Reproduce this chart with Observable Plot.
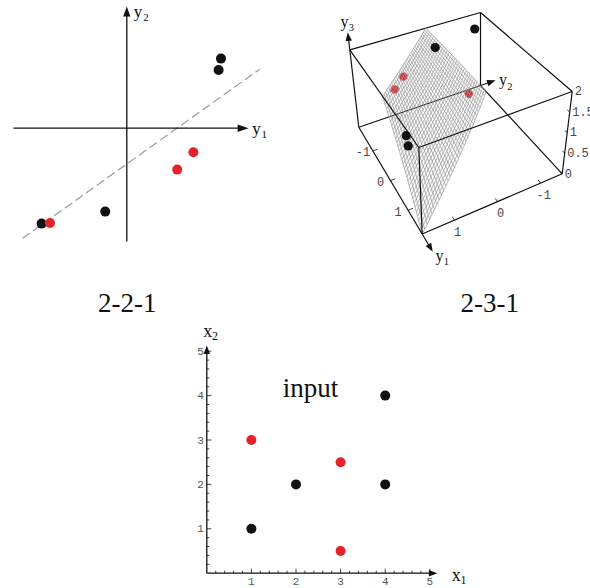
<!DOCTYPE html>
<html><head><meta charset="utf-8">
<script src="https://cdn.jsdelivr.net/npm/d3@7"></script>
<script src="https://cdn.jsdelivr.net/npm/@observablehq/plot@0.6"></script>
<style>
html,body{margin:0;padding:0;background:#fff;}
#wrap{position:relative;width:590px;height:588px;overflow:hidden;background:#fff;}
#wrap svg{position:absolute;max-width:none;background:transparent;}
#wrap g[aria-label^="x-axis"] text, #wrap g[aria-label^="y-axis"] text{fill:#555;}
</style></head><body><div id="wrap"></div>
<script>
// ---------------- data ----------------
// Panel "2-2-1": hidden-unit space (y1, y2)
const p221BlackY1 = [1.57, 1.53, -0.36, -1.42];
const p221BlackY2 = [1.16, 0.97, -1.39, -1.59];
const p221RedY1 = [-1.28, 0.84, 1.11];
const p221RedY2 = [-1.58, -0.69, -0.40];
const p221BoundaryY1 = [-1.73, 2.21];
const p221BoundaryY2 = [-1.83, 0.98];
const p221AxisExtent = [-1.89, 2.03];

// Panel "2-3-1": hidden-unit space (y1, y2, y3)
const p231BlackY1 = [-1.08, -1.30, 1.13, 1.21];
const p231BlackY2 = [0.03, -1.05, 1.75, 1.75];
const p231BlackY3 = [2.0, 2.0, 1.85, 1.66];
const p231RedY1 = [-0.73, -0.55, -1.44];
const p231RedY2 = [0.98, 1.28, -0.98];
const p231RedY3 = [1.8, 1.7, 0.2];
const boxY1 = [-1.8, 1.8];
const boxY2 = [-1.5, 1.75];
const boxY3 = [0, 2];
const axisTip231 = {y1: 2.4, y2: -1.9, y3: 2.45};
const y1Ticks = [-1, 0, 1];
const y2Ticks = [1, 0, -1];
const y3Ticks = [0, 0.5, 1, 1.5, 2];
// separating surface, corner points (y1, y2, y3)
const surfY1 = [-1.8, -0.09, 1.8, -1.55];
const surfY2 = [-0.14, 1.75, 1.75, -1.5];
const surfY3 = [2, 2, 0, 0];

// Panel "input": (x1, x2)
const inBlackX1 = [1, 2, 4, 4];
const inBlackX2 = [1, 2, 2, 4];
const inRedX1 = [1, 3, 3];
const inRedX2 = [3, 2.5, 0.5];
const inTicks = [1, 2, 3, 4, 5];
const inAxisExtent = [5.17, 5.13];

// ---------------- styles ----------------
const INK = "#111";
const RED = "#e5222b";
const SERIF = "'Liberation Serif','Times New Roman',serif";
const MONO = "'Liberation Mono','Courier New',monospace";
const wrap = document.getElementById("wrap");
function place(svg, left, top) { svg.style.left = left + "px"; svg.style.top = top + "px"; wrap.appendChild(svg); }
function headPoly(id, tip, from, len, half) {
  const dx = tip[0] - from[0], dy = tip[1] - from[1], n = Math.hypot(dx, dy);
  const ux = dx / n, uy = dy / n, bx = tip[0] - ux * len, by = tip[1] - uy * len;
  return [[tip[0], tip[1]], [bx - uy * half, by + ux * half], [bx + uy * half, by - ux * half], [tip[0], tip[1]]]
    .map(([px, py]) => ({id, px, py}));
}
function subLabel(x, y, main, sub, o) {
  return [
    Plot.text([main], {x: () => x, y: () => y, text: d => d, dx: o.dx, dy: o.dy, textAnchor: "start", lineAnchor: "bottom", fontSize: o.size, fontFamily: SERIF, fill: INK}),
    Plot.text([sub], {x: () => x, y: () => y, text: d => d, dx: o.sdx, dy: o.sdy, textAnchor: "start", lineAnchor: "bottom", fontSize: o.subSize, fontFamily: SERIF, fill: INK})
  ];
}

// ---------------- panel 1: 2-2-1 ----------------
{
  const X = {domain: [-1.9, 2.1], range: [12.3, 252.3]};
  const Y = {domain: [-1.9, 2.1], range: [241.7, 1.7]};
  const sx = d3.scaleLinear(X.domain, X.range), sy = d3.scaleLinear(Y.domain, Y.range);
  const [lo, hi] = p221AxisExtent;
  const heads = [
    ...headPoly("x", [sx(hi), sy(0)], [sx(lo), sy(0)], 11, 3.8),
    ...headPoly("y", [sx(0), sy(hi)], [sx(0), sy(lo)], 10, 3.6)
  ].map(d => ({id: d.id, x: sx.invert(d.px), y: sy.invert(d.py)}));
  const shafts = [
    {x1: lo, y1: 0, x2: sx.invert(sx(hi) - 6), y2: 0},
    {x1: 0, y1: lo, x2: 0, y2: sy.invert(sy(hi) + 6)}
  ];
  const boundary = p221BoundaryY1.map((v, i) => ({x: v, y: p221BoundaryY2[i]}));
  const black = p221BlackY1.map((v, i) => ({x: v, y: p221BlackY2[i]}));
  const red = p221RedY1.map((v, i) => ({x: v, y: p221RedY2[i]}));
  const svg = Plot.plot({
    width: 290, height: 320, marginLeft: 12.3, marginRight: 37.7, marginTop: 1.7, marginBottom: 78.3,
    x: {...X, axis: null}, y: {...Y, axis: null},
    style: {background: "transparent"},
    marks: [
      Plot.line(boundary, {x: "x", y: "y", stroke: "#9a9a9a", strokeWidth: 1.2, strokeDasharray: "8,5"}),
      Plot.link(shafts, {x1: "x1", y1: "y1", x2: "x2", y2: "y2", stroke: INK, strokeWidth: 1.3}),
      Plot.line(heads, {x: "x", y: "y", z: "id", fill: INK, stroke: "none"}),
      Plot.dot(black, {x: "x", y: "y", r: 5, fill: INK}),
      Plot.dot(red, {x: "x", y: "y", r: 5, fill: RED}),
      ...subLabel(0, hi, "y", "2", {dx: 7, dy: 10.4, sdx: 16.4, sdy: 14.4, size: 17, subSize: 11}),
      ...subLabel(hi, 0, "y", "1", {dx: 3.6, dy: 5.3, sdx: 12.9, sdy: 9.3, size: 17, subSize: 11}),
      Plot.text(["2-2-1"], {frameAnchor: "bottom", text: d => d, dx: -5.6, dy: 70, lineAnchor: "bottom", fontSize: 27, fontFamily: SERIF, fill: INK})
    ]
  });
  place(svg, 0, 0);
}

// ---------------- panel 2: 2-3-1 (3D) ----------------
{
  // camera: screen position of each box corner, key = (y1 high)(y2 low)(y3 high)
  const view = {
    "000": [58.3, 126.7], "010": [180, 85], "100": [121.7, 233.5], "110": [261.7, 173.3],
    "001": [49.3, 49.3], "011": [180, 12], "101": [118.3, 147], "111": [271.7, 91]
  };
  function proj(y1, y2, y3) {
    const a = (y1 - boxY1[0]) / (boxY1[1] - boxY1[0]);
    const b = (boxY2[1] - y2) / (boxY2[1] - boxY2[0]);
    const c = (y3 - boxY3[0]) / (boxY3[1] - boxY3[0]);
    let x = 0, y = 0;
    for (const i of [0, 1]) for (const j of [0, 1]) for (const k of [0, 1]) {
      const w = (i ? a : 1 - a) * (j ? b : 1 - b) * (k ? c : 1 - c);
      const p = view[`${i}${j}${k}`];
      x += w * p[0]; y += w * p[1];
    }
    return [x, y];
  }
  const [m1, M1] = boxY1, [m2, M2] = boxY2, [m3, M3] = boxY3;
  const E = [m1, M2, m3], F = [m1, m2, m3], H = [M1, M2, m3], G = [M1, m2, m3];
  const A = [m1, M2, M3], B = [m1, m2, M3], D = [M1, M2, M3], C = [M1, m2, M3];
  const seg = (p, q) => { const [a, b] = [proj(...p), proj(...q)]; return {x1: a[0], y1: a[1], x2: b[0], y2: b[1]}; };
  const backEdges = [[E, F], [B, F], [A, B], [A, E], [F, G], [B, C]].map(([p, q]) => seg(p, q));
  const frontEdges = [[E, H], [H, G], [D, H], [A, D], [D, C], [C, G]].map(([p, q]) => seg(p, q));
  // surface mesh (bilinear patch through the four corner points)
  const S = surfY1.map((v, i) => [v, surfY2[i], surfY3[i]]);
  const surf = (u, v) => {
    const w = [(1 - u) * (1 - v), u * (1 - v), u * v, (1 - u) * v];
    const p = [0, 1, 2].map(k => w[0] * S[0][k] + w[1] * S[1][k] + w[2] * S[2][k] + w[3] * S[3][k]);
    return proj(...p);
  };
  const N = 32, Mseg = 12, mesh = [];
  for (let i = 0; i <= N; i++) for (let j = 0; j <= Mseg; j++) {
    const a = i / N, b = j / Mseg;
    const p = surf(a, b), q = surf(b, a);
    mesh.push({id: "u" + i, x: p[0], y: p[1]});
    mesh.push({id: "v" + i, x: q[0], y: q[1]});
  }
  // axis arrows
  const tips = {
    y1: [H, [axisTip231.y1, M2, m3]],
    y2: [F, [m1, axisTip231.y2, m3]],
    y3: [A, [m1, M2, axisTip231.y3]]
  };
  const shafts = [], heads = [], tipPx = {};
  for (const [k, [from, to]] of Object.entries(tips)) {
    const a = proj(...from), b = proj(...to);
    tipPx[k] = b;
    const n = Math.hypot(b[0] - a[0], b[1] - a[1]);
    shafts.push({x1: a[0], y1: a[1], x2: b[0] - (b[0] - a[0]) / n * 5, y2: b[1] - (b[1] - a[1]) / n * 5});
    heads.push(...headPoly(k, b, a, 8.5, 3.2).map(d => ({id: d.id, x: d.px, y: d.py})));
  }
  // ticks
  const ticks = [
    ...y1Ticks.map(v => seg([v, M2, m3], [v, M2 - 0.12, m3])),
    ...y2Ticks.map(v => seg([M1, v, m3], [M1 - 0.12, v, m3])),
    ...y3Ticks.map(v => seg([M1, m2, v], [M1 - 0.1, m2, v]))
  ];
  const fmt = d => String(d);
  const lab1 = y1Ticks.map(v => { const p = proj(v, M2, m3); return {x: p[0], y: p[1], t: fmt(v)}; });
  const lab2 = y2Ticks.map(v => { const p = proj(M1, v, m3); return {x: p[0], y: p[1], t: fmt(v)}; });
  const lab3 = y3Ticks.map(v => { const p = proj(M1, m2, v); return {x: p[0], y: p[1], t: fmt(v)}; });
  const pts = (a, b, c) => a.map((v, i) => { const p = proj(v, b[i], c[i]); return {x: p[0], y: p[1]}; });
  const black = pts(p231BlackY1, p231BlackY2, p231BlackY3);
  const red = pts(p231RedY1, p231RedY2, p231RedY3);
  const tickText = (data, o) => Plot.text(data, {x: "x", y: "y", text: "t", fontFamily: MONO, fontSize: 12, fill: "#4a4a4a", lineAnchor: "middle", ...o});
  const svg = Plot.plot({
    width: 290, height: 320, marginLeft: 0, marginRight: 0, marginTop: 0, marginBottom: 0,
    x: {domain: [0, 290], range: [0, 290], axis: null},
    y: {domain: [0, 320], range: [0, 320], axis: null},
    style: {background: "transparent"},
    marks: [
      Plot.link(backEdges, {x1: "x1", y1: "y1", x2: "x2", y2: "y2", stroke: INK, strokeWidth: 1.2}),
      Plot.dot(red, {x: "x", y: "y", r: 4.2, fill: RED}),
      Plot.line(mesh, {x: "x", y: "y", z: "id", stroke: "#999", strokeWidth: 0.75, strokeLinecap: "butt"}),
      Plot.link(frontEdges, {x1: "x1", y1: "y1", x2: "x2", y2: "y2", stroke: INK, strokeWidth: 1.2}),
      Plot.link(ticks, {x1: "x1", y1: "y1", x2: "x2", y2: "y2", stroke: INK, strokeWidth: 0.8}),
      Plot.link(shafts, {x1: "x1", y1: "y1", x2: "x2", y2: "y2", stroke: INK, strokeWidth: 1.2}),
      Plot.line(heads, {x: "x", y: "y", z: "id", fill: INK, stroke: "none"}),
      Plot.dot(black, {x: "x", y: "y", r: 4.6, fill: INK}),
      tickText(lab1, {dx: -10, dy: 1.5, textAnchor: "middle"}),
      tickText(lab2, {dx: 3, dy: 12, textAnchor: "middle"}),
      tickText(lab3, {dx: 2.5, dy: 0, textAnchor: "start"}),
      ...subLabel(tipPx.y3[0], tipPx.y3[1], "y", "3", {dx: -7.3, dy: -5.4, sdx: 1, sdy: -1.2, size: 16, subSize: 10.5}),
      ...subLabel(tipPx.y2[0], tipPx.y2[1], "y", "2", {dx: 3.5, dy: 4.8, sdx: 11.7, sdy: 10, size: 16, subSize: 10.5}),
      ...subLabel(tipPx.y1[0], tipPx.y1[1], "y", "1", {dx: 2.7, dy: 8.7, sdx: 11, sdy: 12.7, size: 16, subSize: 10.5}),
      Plot.text(["2-3-1"], {frameAnchor: "bottom", text: d => d, dx: 44.2, dy: -8.3, lineAnchor: "bottom", fontSize: 27, fontFamily: SERIF, fill: INK})
    ]
  });
  place(svg, 300, 0);
}

// ---------------- panel 3: input ----------------
{
  const X = {domain: [0, 5], range: [36.3, 259.3]};
  const Y = {domain: [0, 5], range: [252.7, 30.7]};
  const sx = d3.scaleLinear(X.domain, X.range), sy = d3.scaleLinear(Y.domain, Y.range);
  const [hx, hy] = inAxisExtent;
  const heads = [
    ...headPoly("x", [sx(hx), sy(0)], [sx(0), sy(0)], 8.5, 3.2),
    ...headPoly("y", [sx(0), sy(hy)], [sx(0), sy(0)], 8.5, 3.2)
  ].map(d => ({id: d.id, x: sx.invert(d.px), y: sy.invert(d.py)}));
  const shafts = [
    {x1: 0, y1: 0, x2: sx.invert(sx(hx) - 5), y2: 0},
    {x1: 0, y1: 0, x2: 0, y2: sy.invert(sy(hy) + 5)}
  ];
  const minor = d3.range(1, 26).map(i => i / 5);
  const isMajor = d => Math.abs(d - Math.round(d)) < 1e-9;
  const black = inBlackX1.map((v, i) => ({x: v, y: inBlackX2[i]}));
  const red = inRedX1.map((v, i) => ({x: v, y: inRedX2[i]}));
  const svg = Plot.plot({
    width: 300, height: 268, marginLeft: 36.3, marginRight: 40.7, marginTop: 30.7, marginBottom: 15.3,
    x: {...X, ticks: inTicks, tickSize: 0, tickPadding: 4, tickFormat: d => String(d), label: null},
    y: {...Y, ticks: inTicks, tickSize: 0, tickPadding: 3, tickFormat: d => String(d), label: null},
    style: {background: "transparent", fontFamily: MONO, fontSize: "11px", color: INK},
    marks: [
      Plot.link(minor, {x1: d => d, x2: d => d, y1: 0, y2: d => sy.invert(sy(0) - (isMajor(d) ? 4.5 : 2.5)), stroke: INK, strokeWidth: 0.8}),
      Plot.link(minor, {y1: d => d, y2: d => d, x1: 0, x2: d => sx.invert(sx(0) + (isMajor(d) ? 4.5 : 2.5)), stroke: INK, strokeWidth: 0.8}),
      Plot.link(shafts, {x1: "x1", y1: "y1", x2: "x2", y2: "y2", stroke: INK, strokeWidth: 1.3}),
      Plot.line(heads, {x: "x", y: "y", z: "id", fill: INK, stroke: "none"}),
      Plot.dot(black, {x: "x", y: "y", r: 5, fill: INK}),
      Plot.dot(red, {x: "x", y: "y", r: 5, fill: RED}),
      Plot.text(["input"], {x: () => 2.325, y: () => 3.964, text: d => d, lineAnchor: "bottom", fontSize: 27, fontFamily: SERIF, fill: INK}),
      ...subLabel(hx, 0, "x", "1", {dx: 14.3, dy: 7.3, sdx: 23, sdy: 10.6, size: 18, subSize: 12}),
      ...subLabel(0, hy, "x", "2", {dx: -3.5, dy: -8.2, sdx: 5.3, sdy: -5.6, size: 18, subSize: 12})
    ]
  });
  place(svg, 170, 320);
}
</script></body></html>
